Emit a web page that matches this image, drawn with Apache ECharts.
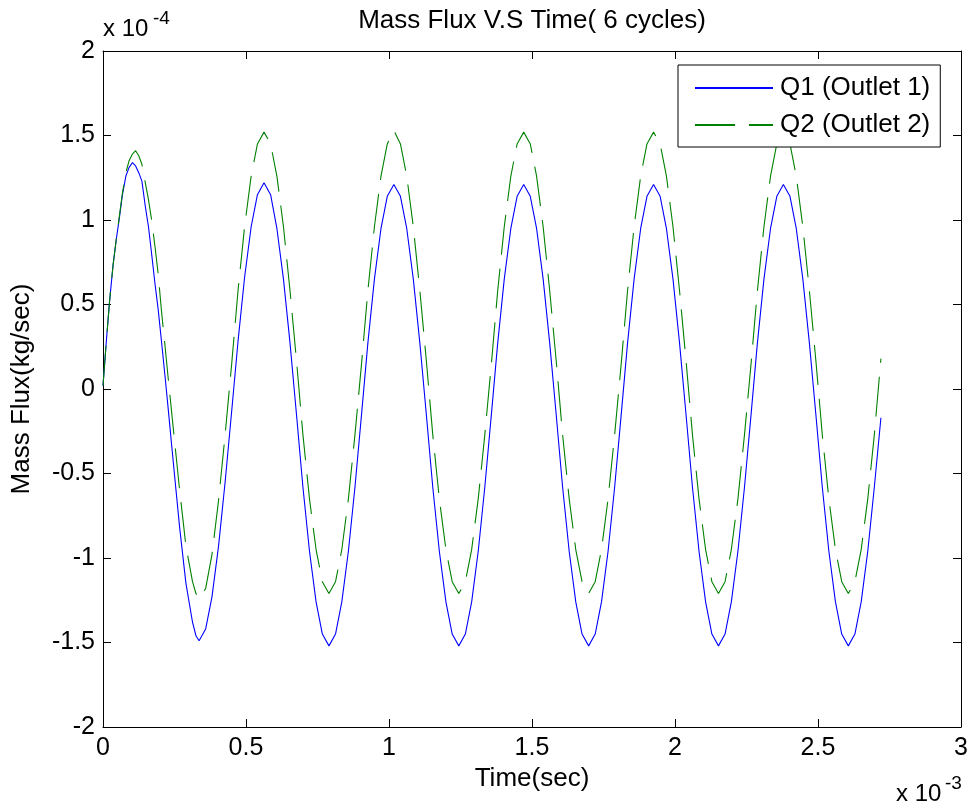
<!DOCTYPE html>
<html>
<head>
<meta charset="utf-8">
<script src="https://cdn.jsdelivr.net/npm/echarts@6/dist/echarts.min.js"></script>
<style>
html,body{margin:0;padding:0;background:#fff;}
#chart{width:971px;height:812px;}
</style>
</head>
<body>
<div id="chart"></div>
<script>
// Time in units of 1e-3 s
const timeMs = [
  0.000, 0.012, 0.023, 0.035, 0.046, 0.057, 0.068, 0.080, 0.091, 0.103,
  0.114, 0.125, 0.136, 0.148, 0.159, 0.170, 0.182, 0.193, 0.204, 0.216,
  0.227, 0.245, 0.268, 0.290, 0.313, 0.325,
  0.336, 0.359, 0.381, 0.404, 0.427, 0.450, 0.472, 0.495, 0.518, 0.540,
  0.563, 0.586, 0.608, 0.631, 0.654, 0.677, 0.699, 0.722, 0.745, 0.767,
  0.790, 0.813, 0.835, 0.858, 0.881, 0.904, 0.926, 0.949, 0.972, 0.994,
  1.017, 1.040, 1.062, 1.085, 1.108, 1.131, 1.153, 1.176, 1.199, 1.221,
  1.244, 1.267, 1.289, 1.312, 1.335, 1.358, 1.380, 1.403, 1.426, 1.448,
  1.471, 1.494, 1.516, 1.539, 1.562, 1.585, 1.607, 1.630, 1.653, 1.675,
  1.698, 1.721, 1.743, 1.766, 1.789, 1.812, 1.834, 1.857, 1.880, 1.902,
  1.925, 1.948, 1.970, 1.993, 2.016, 2.039, 2.061, 2.084, 2.107, 2.129,
  2.152, 2.175, 2.197, 2.220, 2.243, 2.266, 2.288, 2.311, 2.334, 2.356,
  2.379, 2.402, 2.424, 2.447, 2.470, 2.493, 2.515, 2.538, 2.561, 2.583,
  2.606, 2.629, 2.651, 2.674, 2.697, 2.720
];
// Q1 (Outlet 1), units of 1e-4 kg/sec
const q1 = [
  0.02, 0.29, 0.52, 0.73, 0.88, 1.01, 1.15, 1.26, 1.31, 1.34,
  1.32, 1.28, 1.23, 1.08, 0.96, 0.80, 0.62, 0.47, 0.29, 0.09,
  -0.10, -0.42, -0.82, -1.15, -1.38, -1.46,
  -1.49, -1.42, -1.23, -0.93, -0.55, -0.13, 0.28, 0.66, 0.96, 1.15,
  1.22, 1.15, 0.95, 0.65, 0.27, -0.16, -0.58, -0.96, -1.26, -1.45,
  -1.52, -1.45, -1.26, -0.96, -0.58, -0.15, 0.27, 0.65, 0.95, 1.14,
  1.21, 1.14, 0.95, 0.65, 0.27, -0.16, -0.58, -0.96, -1.26, -1.45,
  -1.52, -1.45, -1.26, -0.96, -0.58, -0.15, 0.27, 0.65, 0.95, 1.14,
  1.21, 1.14, 0.95, 0.65, 0.27, -0.16, -0.58, -0.96, -1.26, -1.45,
  -1.52, -1.45, -1.26, -0.96, -0.58, -0.15, 0.27, 0.65, 0.95, 1.14,
  1.21, 1.14, 0.95, 0.65, 0.27, -0.16, -0.58, -0.96, -1.26, -1.45,
  -1.52, -1.45, -1.26, -0.96, -0.58, -0.15, 0.27, 0.65, 0.95, 1.14,
  1.21, 1.14, 0.95, 0.65, 0.27, -0.16, -0.58, -0.96, -1.26, -1.45,
  -1.52, -1.45, -1.26, -0.96, -0.58, -0.17
];
// Q2 (Outlet 2), units of 1e-4 kg/sec
const q2 = [
  0.02, 0.29, 0.52, 0.73, 0.88, 1.02, 1.16, 1.28, 1.35, 1.39,
  1.41, 1.38, 1.33, 1.22, 1.12, 1.00, 0.84, 0.68, 0.47, 0.27,
  0.08, -0.22, -0.60, -0.93, -1.14, -1.21,
  -1.24, -1.18, -0.98, -0.66, -0.27, 0.15, 0.58, 0.96, 1.26, 1.45,
  1.52, 1.45, 1.26, 0.96, 0.58, 0.16, -0.27, -0.65, -0.95, -1.14,
  -1.21, -1.14, -0.95, -0.65, -0.27, 0.15, 0.58, 0.96, 1.26, 1.45,
  1.53, 1.45, 1.26, 0.96, 0.58, 0.16, -0.27, -0.65, -0.95, -1.14,
  -1.21, -1.14, -0.95, -0.65, -0.27, 0.15, 0.58, 0.96, 1.26, 1.45,
  1.52, 1.45, 1.26, 0.96, 0.58, 0.16, -0.27, -0.65, -0.95, -1.14,
  -1.21, -1.14, -0.95, -0.65, -0.27, 0.15, 0.58, 0.96, 1.26, 1.45,
  1.52, 1.45, 1.26, 0.96, 0.58, 0.16, -0.27, -0.65, -0.95, -1.14,
  -1.21, -1.14, -0.95, -0.65, -0.27, 0.15, 0.58, 0.96, 1.26, 1.45,
  1.52, 1.45, 1.26, 0.96, 0.58, 0.16, -0.27, -0.65, -0.95, -1.14,
  -1.21, -1.14, -0.95, -0.65, -0.27, 0.18
];
const xTickLabels = ['0', '0.5', '1', '1.5', '2', '2.5', '3'];
const yTickLabels = ['-2', '-1.5', '-1', '-0.5', '0', '0.5', '1', '1.5', '2'];
const seriesNames = ['Q1 (Outlet 1)', 'Q2 (Outlet 2)'];

const FONT = "'Liberation Sans', Arial, Helvetica, sans-serif";
const chart = echarts.init(document.getElementById('chart'), null, {renderer: 'canvas'});

function pairs(xs, ys) { return xs.map((x, i) => [x, ys[i]]); }

const axisCommon = {
  axisLine: {show: true, onZero: false, lineStyle: {color: '#000', width: 1}},
  axisTick: {show: true, inside: true, length: 8, lineStyle: {color: '#000'}},
  splitLine: {show: false}
};

const option = {
  animation: false,
  backgroundColor: '#fff',
  grid: {left: 103, right: 10, top: 51, bottom: 85, containLabel: false, outerBoundsMode: 'none'},
  xAxis: [
    Object.assign({}, axisCommon, {
      type: 'value', min: 0, max: 3, interval: 0.5, position: 'bottom',
      axisLabel: {color: '#000', fontSize: 25, fontFamily: FONT, margin: 9,
        formatter: v => xTickLabels[Math.round(v / 0.5)]},
      name: 'Time(sec)', nameLocation: 'middle', nameGap: 38,
      nameTextStyle: {color: '#000', fontSize: 26, fontFamily: FONT}
    }),
    Object.assign({}, axisCommon, {
      type: 'value', min: 0, max: 3, interval: 0.5, position: 'top',
      axisLabel: {show: false}
    })
  ],
  yAxis: [
    Object.assign({}, axisCommon, {
      type: 'value', min: -2, max: 2, interval: 0.5, position: 'left',
      axisLabel: {color: '#000', fontSize: 25, fontFamily: FONT, margin: 8,
        formatter: v => yTickLabels[Math.round((v + 2) / 0.5)]},
      name: 'Mass Flux(kg/sec)', nameLocation: 'middle', nameGap: 68, nameRotate: 90,
      nameTextStyle: {color: '#000', fontSize: 26, fontFamily: FONT}
    }),
    Object.assign({}, axisCommon, {
      type: 'value', min: -2, max: 2, interval: 0.5, position: 'right',
      axisLabel: {show: false}
    })
  ],
  legend: {
    orient: 'vertical', left: 678, top: 65,
    padding: [10, 10, 9, 16],
    itemGap: 11,
    itemWidth: 78, itemHeight: 14,
    backgroundColor: '#fff', borderColor: '#000', borderWidth: 1, borderRadius: 0,
    itemStyle: {opacity: 0},
    textStyle: {color: '#000', fontSize: 26, fontFamily: FONT, padding: [0, 0, 0, 2]},
    data: seriesNames
  },
  graphic: [
    {type: 'text', x: 532, y: 8, style: {text: 'Mass Flux V.S Time( 6 cycles)', font: "26px " + FONT, fill: '#000', align: 'center'}},
    {type: 'text', x: 103, y: 17, style: {text: 'x 10', font: "24px " + FONT, fill: '#000'}},
    {type: 'text', x: 153, y: 9, style: {text: '-4', font: "19px " + FONT, fill: '#000'}},
    {type: 'text', x: 896, y: 782, style: {text: 'x 10', font: "24px " + FONT, fill: '#000'}},
    {type: 'text', x: 945, y: 774, style: {text: '-3', font: "19px " + FONT, fill: '#000'}}
  ],
  series: [
    {
      name: seriesNames[0], type: 'line', xAxisIndex: 0, yAxisIndex: 0,
      data: pairs(timeMs, q1), showSymbol: false, symbol: 'none',
      lineStyle: {color: '#0000ff', width: 1.1}, itemStyle: {color: '#0000ff'}
    },
    {
      name: seriesNames[1], type: 'line', xAxisIndex: 0, yAxisIndex: 0,
      data: pairs(timeMs, q2), showSymbol: false, symbol: 'none',
      lineStyle: {color: '#008000', width: 1.1, type: [40, 14]}, itemStyle: {color: '#008000'}
    }
  ]
};
chart.setOption(option);
</script>
</body>
</html>
